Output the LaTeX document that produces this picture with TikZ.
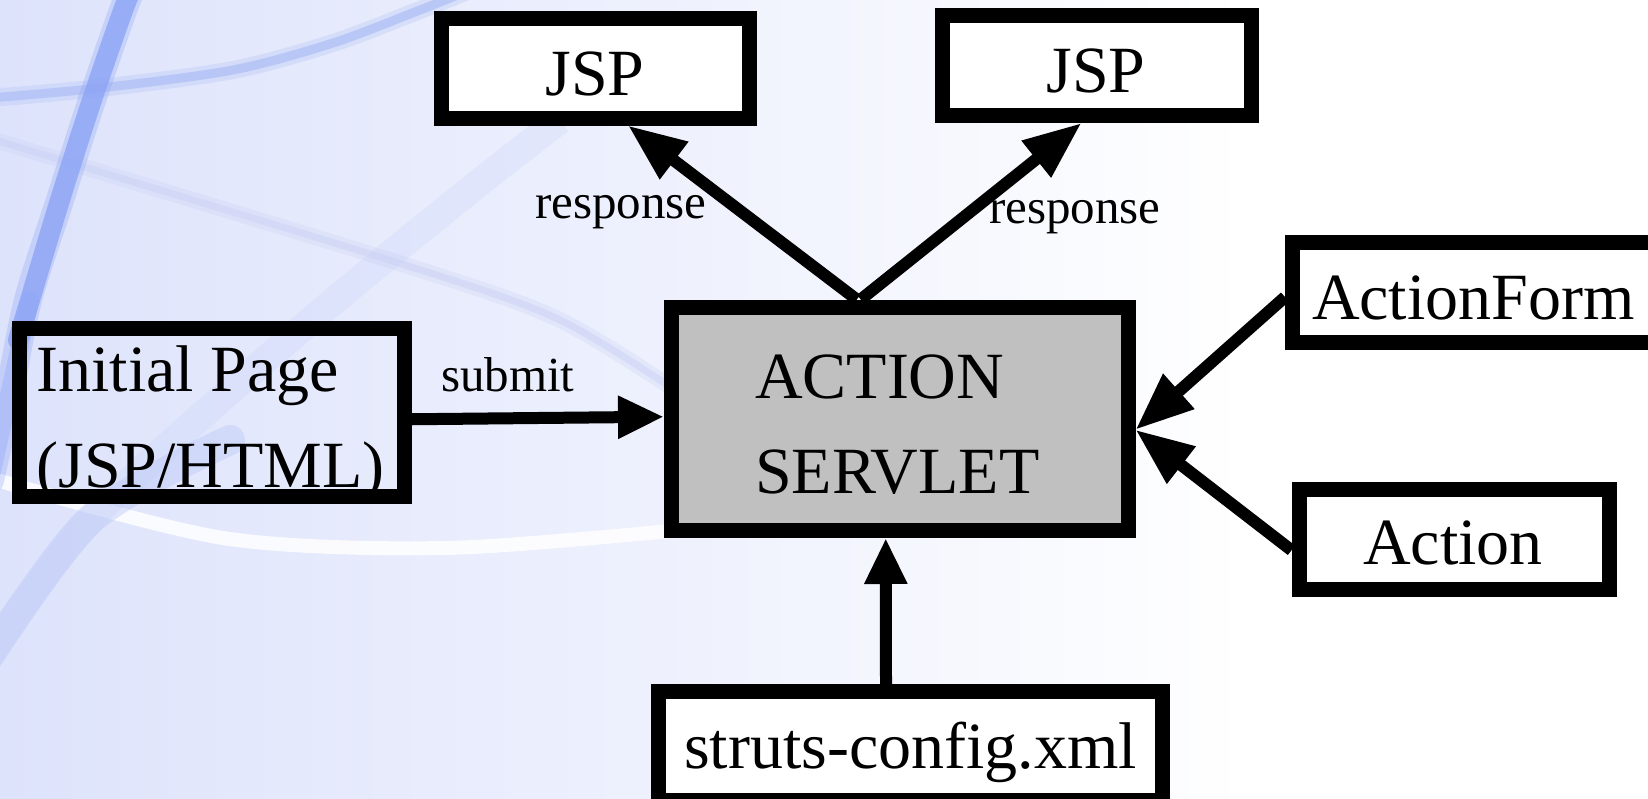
\documentclass[tikz,border=0pt]{standalone}
\usepackage{fontspec}
\setmainfont{Liberation Serif}
\usetikzlibrary{arrows.meta,calc}
\definecolor{bgL}{HTML}{DDE3FB}
\definecolor{bgM}{HTML}{EDF0FD}
\definecolor{srvgray}{HTML}{C0C0C0}
\definecolor{bstroke}{HTML}{8CA4F5}
\definecolor{lstroke}{HTML}{BCC9F7}
\definecolor{tstroke}{HTML}{AFC0F5}
\definecolor{fstroke}{HTML}{CCD3F5}
\newcommand{\bigtxt}{\fontsize{66}{78}\selectfont}
\newcommand{\smalltxt}{\fontsize{49}{58}\selectfont}
\tikzset{
  box/.style={draw=black, line width=15pt, outer sep=7.5pt, inner sep=0pt, fill=white, rectangle, line join=miter},
  lbl/.style={inner sep=0pt, outer sep=0pt, font=\bigtxt, text=black},
  slbl/.style={inner sep=0pt, outer sep=0pt, font=\smalltxt, text=black},
  sconn/.style={line width=12pt, -{Triangle[length=46pt,width=40pt]}},
  dconn/.style={line width=12pt, -{Triangle[length=58pt,width=44pt]}},
  bgline/.style={line cap=round, line join=round}
}
\begin{document}
\begin{tikzpicture}[x=1pt,y=-1pt]
\useasboundingbox (0,0) rectangle (1648,798);
\clip (0,0) rectangle (1648,798);
% background
\fill[white] (0,0) rectangle (1648,798);
\shade[left color=bgL, right color=white, middle color=bgM] (0,0) rectangle (1250,798);
% decorative strokes
\draw[bgline, white, opacity=0.85, line width=14pt] plot[smooth] coordinates {(-10,478) (223,538) (446,548) (680,530)};
\draw[bgline, fstroke, opacity=0.3, line width=16pt] plot[smooth] coordinates {(-10,138) (18,147) (402,264) (560,320) (690,400)};
\draw[bgline, fstroke, opacity=0.55, line width=7pt] plot[smooth] coordinates {(-10,138) (18,147) (402,264) (560,320) (690,400)};
\draw[lstroke, opacity=0.2, line width=28pt] plot[smooth] coordinates {(560,120) (470,190) (300,330) (90,520) (-20,670)};
\draw[bgline, lstroke, opacity=0.45, line width=30pt] plot[smooth] coordinates {(230,440) (90,520) (-20,670)};
\draw[bgline, tstroke, opacity=0.3, line width=18pt] plot[smooth] coordinates {(-10,98) (100,88) (233,70) (333,43) (420,10) (470,-10)};
\draw[bgline, tstroke, opacity=0.75, line width=9pt] plot[smooth] coordinates {(-10,98) (100,88) (233,70) (333,43) (420,10) (470,-10)};
\draw[bgline, bstroke, opacity=0.3, line width=28pt] plot[smooth] coordinates {(140,-20) (127,0) (92,100) (60,200) (28,300) (8,400) (-10,480)};
\draw[bgline, bstroke, opacity=0.8, line width=20pt] plot[smooth] coordinates {(140,-20) (127,0) (92,100) (60,200) (30,300) (18,340)};
\draw[bgline, bstroke, opacity=0.35, line width=18pt] plot[smooth] coordinates {(30,300) (8,400) (-10,480)};

% boxes
\node[box, minimum width=308pt, minimum height=100pt] (jspA) at (595,68) {};
\node[box, minimum width=309pt, minimum height=100.5pt] (jspB) at (1096.5,65.25) {};
\node[box, minimum width=369.5pt, minimum height=100pt] (actf) at (1477.25,292.5) {};
\node[box, minimum width=310pt, minimum height=100.5pt] (act) at (1454,539.25) {};
\node[box, fill=srvgray, minimum width=456.5pt, minimum height=223.5pt] (srv) at (899.75,418.75) {};
\node[box, fill=none, minimum width=385pt, minimum height=168.5pt] (init) at (211.5,412.25) {};
\node[box, minimum width=504pt, minimum height=108.5pt] (cfg) at (910,745.75) {};

% texts
\node[lbl, anchor=base] (tjspA) at (595,95) {JSP};
\node[lbl, anchor=base] (tjspB) at (1096,92) {JSP};
\node[lbl, anchor=base west] (tactf) at (1312,319) {ActionForm};
\node[lbl, anchor=base] (tact) at (1453,564) {Action};
\node[lbl, anchor=base west] (tsrvA) at (755,398) {ACTION};
\node[lbl, anchor=base west] (tsrvB) at (755,493) {SERVLET};
\node[lbl, anchor=base west] (tinitA) at (36.5,391) {Initial Page};
\node[lbl, anchor=base west] (tinitB) at (36.5,487) {(JSP/HTML)};
\node[lbl, anchor=base west] (tcfg) at (684,768) {struts-config.xml};
\node[slbl, anchor=base west] (lresA) at (535,218) {response};
\node[slbl, anchor=base west] (lresB) at (989,223) {response};
\node[slbl, anchor=base west] (lsub) at (441,391) {submit};

% connectors
\draw[sconn] ($(init.east)+(0,7)$) -- ($(srv.west)+(0,-2)$);
\draw[dconn] ($(srv.north)+(-43,0)$) -- ($(jspA.south)+(33,0)$);
\draw[dconn] ($(srv.north)+(-39,0)$) -- ($(jspB.south)+(-15,0)$);
\draw[dconn] ($(actf.west)+(0,4.5)$) -- ($(srv.east)+(0,11)$);
\draw[dconn] ($(act.west)+(0,11)$) -- ($(srv.east)+(0,11)$);
\draw[sconn] ($(cfg.north)+(-24,0)$) -- ($(srv.south)+(-14,0)$);
\end{tikzpicture}
\end{document}
